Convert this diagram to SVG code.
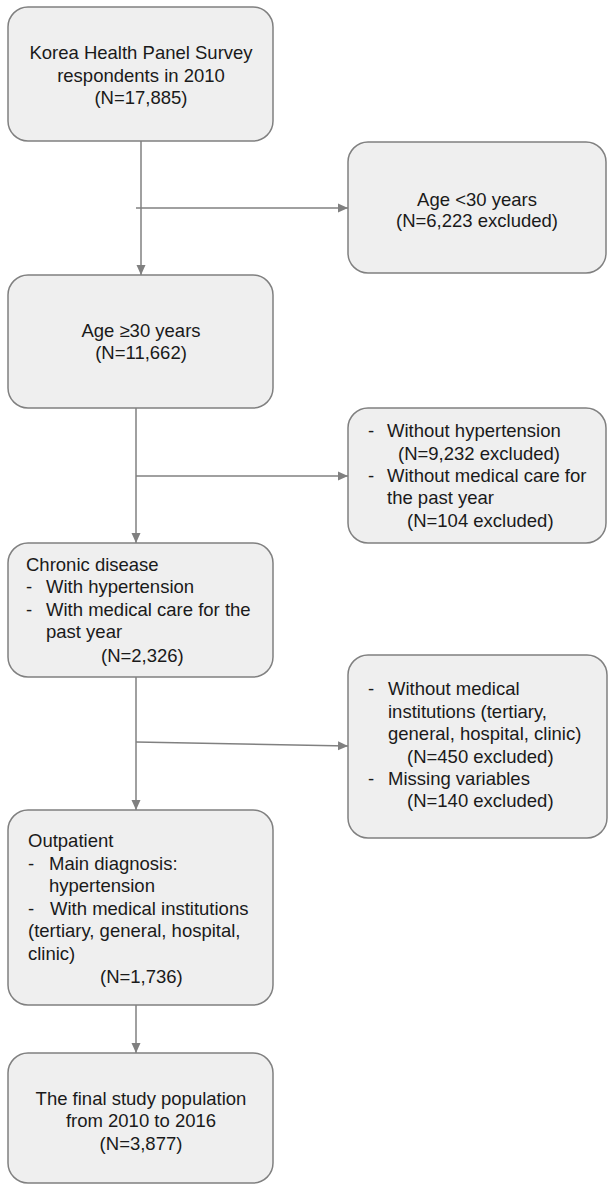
<svg xmlns="http://www.w3.org/2000/svg" width="608" height="1185" viewBox="0 0 608 1185">
<defs>
<style>
.box{fill:#efefef;stroke:#808080;stroke-width:1.5}
.t{font-family:"Liberation Sans",Arial,sans-serif;font-size:18.5px;fill:#1a1a1a}
.c{text-anchor:middle}
.ln{stroke:#808080;stroke-width:1.5;fill:none}
</style>
<marker id="ah" viewBox="0 0 10 10" refX="10" refY="5" markerWidth="10" markerHeight="10" markerUnits="userSpaceOnUse" orient="auto">
<path d="M0,0.5 L10,5 L0,9.5 Z" fill="#808080"/>
</marker>
</defs>
<rect x="0" y="0" width="608" height="1185" fill="#ffffff"/>
<g id="connectors">
<line class="ln" x1="141" y1="141" x2="141" y2="275" marker-end="url(#ah)"/>
<line class="ln" x1="136" y1="208" x2="348" y2="208" marker-end="url(#ah)"/>
<line class="ln" x1="136" y1="408" x2="136" y2="543" marker-end="url(#ah)"/>
<line class="ln" x1="136" y1="476" x2="348" y2="476" marker-end="url(#ah)"/>
<line class="ln" x1="136" y1="677" x2="136" y2="810" marker-end="url(#ah)"/>
<line class="ln" x1="136" y1="742" x2="348" y2="746" marker-end="url(#ah)"/>
<line class="ln" x1="136" y1="1005" x2="136" y2="1053" marker-end="url(#ah)"/>
</g>
<g id="node-survey">
<rect class="box" x="8" y="7" width="265" height="134" rx="20"/>
<text class="t c" x="141" y="59">Korea Health Panel Survey</text>
<text class="t c" x="141" y="82">respondents in 2010</text>
<text class="t c" x="141" y="104">(N=17,885)</text>
</g>
<g id="node-age-under30">
<rect class="box" x="348" y="142" width="258" height="131" rx="20"/>
<text class="t c" x="477" y="206">Age &lt;30 years</text>
<text class="t c" x="477" y="227">(N=6,223 excluded)</text>
</g>
<g id="node-age-over30">
<rect class="box" x="8" y="275" width="265" height="133" rx="20"/>
<text class="t c" x="141" y="337">Age ≥30 years</text>
<text class="t c" x="141" y="359">(N=11,662)</text>
</g>
<g id="node-excl-hypertension">
<rect class="box" x="348" y="408" width="258" height="135" rx="20"/>
<text class="t" x="368" y="437">- <tspan x="387">Without hypertension</tspan></text>
<text class="t" x="398" y="460">(N=9,232 excluded)</text>
<text class="t" x="368" y="482">- <tspan x="387">Without medical care for</tspan></text>
<text class="t" x="387" y="504">the past year</text>
<text class="t" x="407" y="527">(N=104 excluded)</text>
</g>
<g id="node-chronic">
<rect class="box" x="8" y="543" width="265" height="134" rx="20"/>
<text class="t" x="26" y="571">Chronic disease</text>
<text class="t" x="26" y="593">- <tspan x="46">With hypertension</tspan></text>
<text class="t" x="26" y="616">- <tspan x="46">With medical care for the</tspan></text>
<text class="t" x="46" y="638">past year</text>
<text class="t" x="101" y="662">(N=2,326)</text>
</g>
<g id="node-excl-institutions">
<rect class="box" x="348" y="655" width="259" height="183" rx="20"/>
<text class="t" x="368" y="695">- <tspan x="388">Without medical</tspan></text>
<text class="t" x="388" y="718">institutions (tertiary,</text>
<text class="t" x="388" y="740">general, hospital, clinic)</text>
<text class="t" x="407" y="763">(N=450 excluded)</text>
<text class="t" x="368" y="785">- <tspan x="388">Missing variables</tspan></text>
<text class="t" x="407" y="807">(N=140 excluded)</text>
</g>
<g id="node-outpatient">
<rect class="box" x="8" y="810" width="265" height="195" rx="20"/>
<text class="t" x="28" y="847">Outpatient</text>
<text class="t" x="28" y="870">- <tspan x="49">Main diagnosis:</tspan></text>
<text class="t" x="49" y="892">hypertension</text>
<text class="t" x="28" y="915">- <tspan x="50">With medical institutions</tspan></text>
<text class="t" x="28" y="937">(tertiary, general, hospital,</text>
<text class="t" x="28" y="960">clinic)</text>
<text class="t" x="100" y="983">(N=1,736)</text>
</g>
<g id="node-final">
<rect class="box" x="8" y="1053" width="265" height="130" rx="20"/>
<text class="t c" x="141" y="1105">The final study population</text>
<text class="t c" x="141" y="1127">from 2010 to 2016</text>
<text class="t c" x="141" y="1150">(N=3,877)</text>
</g>
</svg>
